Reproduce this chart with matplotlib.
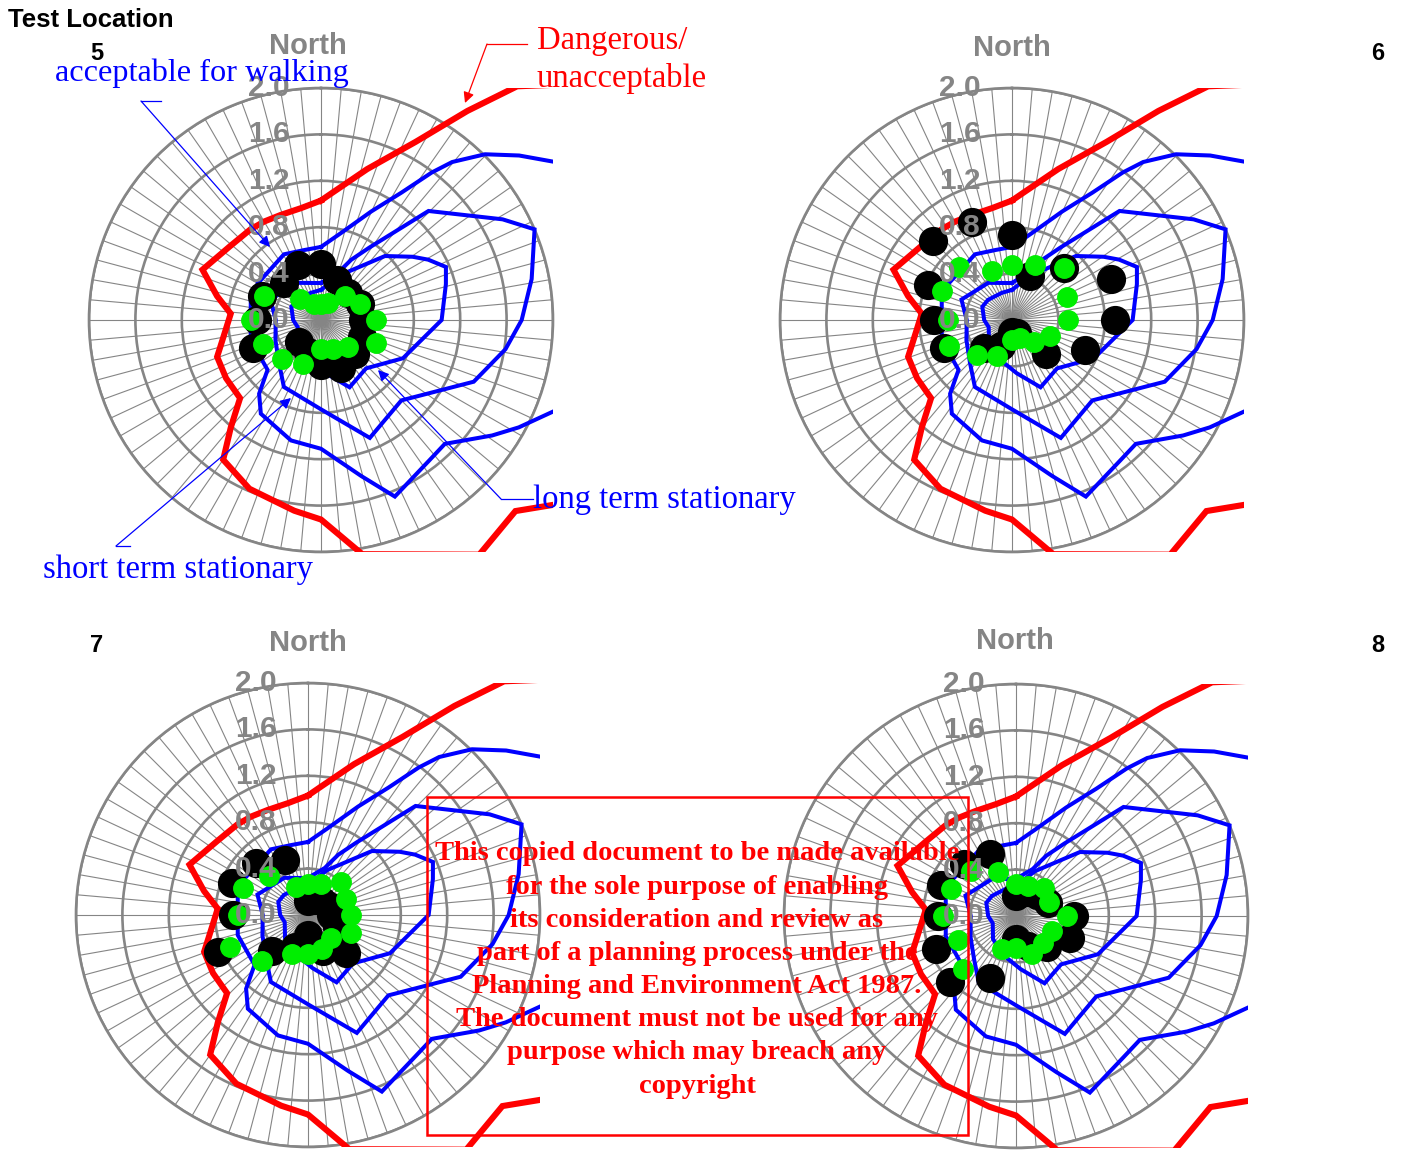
import numpy as np
import matplotlib.pyplot as plt
from matplotlib.lines import Line2D
from matplotlib.patches import Rectangle, FancyArrowPatch
from matplotlib.transforms import Affine2D

W, H = 1408, 1151

# wind directions of the measurements (deg, clockwise from north)
dirs16 = np.arange(16) * 22.5

# comfort criteria curves: direction (deg) and velocity ratio
red_dir = [0, 5, 17, 28, 35, 40, 55, 75, 95, 115, 128, 134.5, 146, 170, 180, 188,
           203, 215, 220, 226, 238.5, 250.5, 257, 274, 283, 293, 309, 322, 330, 339, 350, 360]
red_r = [1.03, 1.10, 1.36, 1.74, 2.2, 2.63, 3.6, 3.8, 3.6, 3.2, 2.58, 2.35, 2.44, 2.05, 1.72, 1.66,
         1.58, 1.47, 1.21, 0.97, 0.96, 0.95, 0.88, 0.78, 0.92, 1.11, 1.01, 0.99, 0.98, 0.97, 0.98, 1.03]

walk_dir = [0, 13, 24.8, 32.3, 36.9, 39.7, 44.7, 50.3, 56.1, 75, 95, 111, 118.5, 124, 135, 142.7,
            157.3, 165.5, 180, 194, 212.7, 220, 227, 254, 286, 300, 330.6, 346.6, 360]
walk_r = [0.63, 0.77, 1.03, 1.30, 1.59, 1.77, 2.01, 2.22, 2.44, 2.9, 2.8, 2.17, 1.94, 1.78, 1.51, 1.53,
          1.65, 1.39, 1.11, 1.07, 0.96, 0.83, 0.63, 0.63, 0.63, 0.63, 0.65, 0.62, 0.63]

short_dir = [0, 19.6, 26.6, 33.7, 44.6, 61, 67, 79, 90, 99, 112, 135, 157.5, 180, 209, 224,
             246, 270, 292, 327.5, 355, 360]
short_r = [0.32, 0.43, 0.58, 0.75, 1.32, 1.79, 2.0, 1.85, 1.73, 1.61, 1.42, 0.98, 1.10, 0.77, 0.66, 0.52,
           0.43, 0.39, 0.47, 0.38, 0.32, 0.32]

long_dir = [0, 23, 45, 55.4, 60.6, 67, 74, 90, 115, 137, 157, 175, 200, 225, 253, 270, 294, 310, 339, 360]
long_r = [0.26, 0.42, 0.78, 0.96, 1.06, 1.17, 1.12, 1.04, 0.78, 0.57, 0.63, 0.46, 0.35, 0.28, 0.21,
          0.24, 0.28, 0.27, 0.25, 0.26]

# measured velocity ratios per test location (16 directions)
black5 = [0.48, 0.37, 0.33, 0.36, 0.36, 0.38, 0.42, 0.45, 0.39, 0.30, 0.27, 0.63, 0.55, 0.55, 0.45, 0.51]
green5 = [0.14, 0.16, 0.29, 0.36, 0.47, 0.51, 0.33, 0.27, 0.25, 0.41, 0.48, 0.54, 0.60, 0.53, 0.26, 0.15]
black6 = [0.73, 0.41, 0.64, 0.92, 0.89, 0.68, 0.42, 0.12, 0.10, 0.24, 0.34, 0.63, 0.67, 0.78, 0.96, 0.91]
green6 = [0.47, 0.51, 0.64, 0.51, 0.48, 0.35, 0.27, 0.17, 0.17, 0.34, 0.43, 0.59, 0.55, 0.65, 0.65, 0.46]
black7 = [0.12, 0.14, 0.17, 0.20, 0.20, 0.27, 0.46, 0.34, 0.17, 0.30, 0.44, 0.84, 0.65, 0.71, 0.63, 0.51]
green7 = [0.27, 0.29, 0.40, 0.35, 0.37, 0.40, 0.28, 0.32, 0.34, 0.36, 0.56, 0.73, 0.60, 0.61, 0.48, 0.26]
black8 = [0.17, 0.22, 0.26, 0.30, 0.50, 0.50, 0.38, 0.28, 0.20, 0.58, 0.80, 0.75, 0.67, 0.70, 0.63, 0.58]
green8 = [0.28, 0.28, 0.34, 0.31, 0.44, 0.34, 0.33, 0.35, 0.28, 0.31, 0.65, 0.54, 0.63, 0.61, 0.55, 0.41]

ring_vals = [0.0, 0.4, 0.8, 1.2, 1.6, 2.0]
ring_labels = ["0.0", "0.4", "0.8", "1.2", "1.6", "2.0"]

GREY = "#858585"
SANS = "Liberation Sans"
SERIF = "Liberation Serif"

fig = plt.figure(figsize=(W / 100, H / 100), dpi=100)
pix = Affine2D().scale(1 / W, -1 / H).translate(0, 1) + fig.transFigure

RAD = 232
panels = [
    ("5", 321, 320, black5, green5, (97, 53), (308, 46)),
    ("6", 1012, 320, black6, green6, (1378, 53), (1012, 48)),
    ("7", 308, 915, black7, green7, (97, 646), (308, 643)),
    ("8", 1016, 916, black8, green8, (1378, 646), (1015, 641)),
]


def curve(ax, d, r, color, lw):
    ln, = ax.plot(np.deg2rad(d), r, color=color, lw=lw, zorder=3, solid_joinstyle="miter")
    ln.set_clip_path(None)
    ln.set_clip_box(ax.bbox)


for name, cx, cy, blk, grn, npos, northpos in panels:
    ax = fig.add_axes([(cx - RAD) / W, 1 - (cy + RAD) / H, 2 * RAD / W, 2 * RAD / H],
                      projection="polar")
    ax.set_theta_zero_location("N")
    ax.set_theta_direction(-1)
    ax.set_ylim(0, 2.0)
    ax.set_thetagrids(np.arange(0, 360, 5), labels=[])
    ax.set_rgrids([0.4, 0.8, 1.2, 1.6, 2.0], labels=[])
    ax.xaxis.grid(True, color=GREY, lw=0.8)
    ax.yaxis.grid(True, color=GREY, lw=1.9)
    ax.tick_params(length=0)
    ax.spines["polar"].set_color(GREY)
    ax.spines["polar"].set_linewidth(1.9)

    curve(ax, red_dir, red_r, "#ff0000", 4.4)
    curve(ax, walk_dir, walk_r, "#0000ff", 2.9)
    curve(ax, short_dir, short_r, "#0000ff", 2.9)
    curve(ax, long_dir, long_r, "#0000ff", 2.9)

    th = np.deg2rad(dirs16)
    ax.plot(th, blk, "o", color="black", ms=20, zorder=4, clip_on=False)
    ax.plot(th, grn, "o", color="#00ee00", ms=14, zorder=5, clip_on=False)

    for v, lab in zip(ring_vals, ring_labels):
        ax.annotate(lab, xy=(0, v), xytext=(-37.5, 0), textcoords="offset points",
                    ha="center", va="center", color=GREY, fontsize=21.5,
                    fontweight="bold", family=SANS, zorder=6)

    fig.text(npos[0], npos[1], name, transform=pix, ha="center", va="center",
             fontsize=17, fontweight="bold", family=SANS)
    fig.text(northpos[0], northpos[1], "North", transform=pix, ha="center", va="center",
             fontsize=21, fontweight="bold", family=SANS, color=GREY)

fig.text(8, 20, "Test Location", transform=pix, ha="left", va="center",
         fontsize=18.5, fontweight="bold", family=SANS)


def pointer(pts, color):
    xs, ys = zip(*pts[:-1])
    fig.add_artist(Line2D(xs, ys, transform=pix, color=color, lw=0.9))
    fig.add_artist(FancyArrowPatch(pts[-2], pts[-1], transform=pix, arrowstyle="-|>",
                                   mutation_scale=16, color=color, lw=0.9,
                                   shrinkA=0, shrinkB=0))


fig.text(537, 41, "Dangerous/", transform=pix, ha="left", va="center",
         fontsize=23.5, family=SERIF, color="#ff0000")
fig.text(537, 78, "unacceptable", transform=pix, ha="left", va="center",
         fontsize=23.5, family=SERIF, color="#ff0000")
pointer([(527, 44), (487, 44), (465, 103)], "#ff0000")

fig.text(55, 73, "acceptable for walking", transform=pix, ha="left", va="center",
         fontsize=23.2, family=SERIF, color="#0000ff")
pointer([(161, 101), (141, 101), (270, 247)], "#0000ff")

fig.text(533, 500, "long term stationary", transform=pix, ha="left", va="center",
         fontsize=23.5, family=SERIF, color="#0000ff")
pointer([(533, 499), (501, 499), (378, 370)], "#0000ff")

fig.text(43, 570, "short term stationary", transform=pix, ha="left", va="center",
         fontsize=23.5, family=SERIF, color="#0000ff")
pointer([(130, 546), (116, 546), (291, 398)], "#0000ff")

notice = ("This copied document to be made available\n"
          "for the sole purpose of enabling\n"
          "its consideration and review as\n"
          "part of a planning process under the\n"
          "Planning and Environment Act 1987.\n"
          "The document must not be used for any\n"
          "purpose which may breach any\n"
          "copyright")
fig.text(697, 970, notice, transform=pix, ha="center", va="center", color="#ff0000",
         fontsize=20.5, fontweight="bold", family=SERIF, linespacing=1.43, zorder=10)
fig.add_artist(Rectangle((427, 797), 541, 338, transform=pix, fill=False,
                         edgecolor="#ff0000", lw=1.8, zorder=10))

fig.savefig("out.png", dpi=100)
